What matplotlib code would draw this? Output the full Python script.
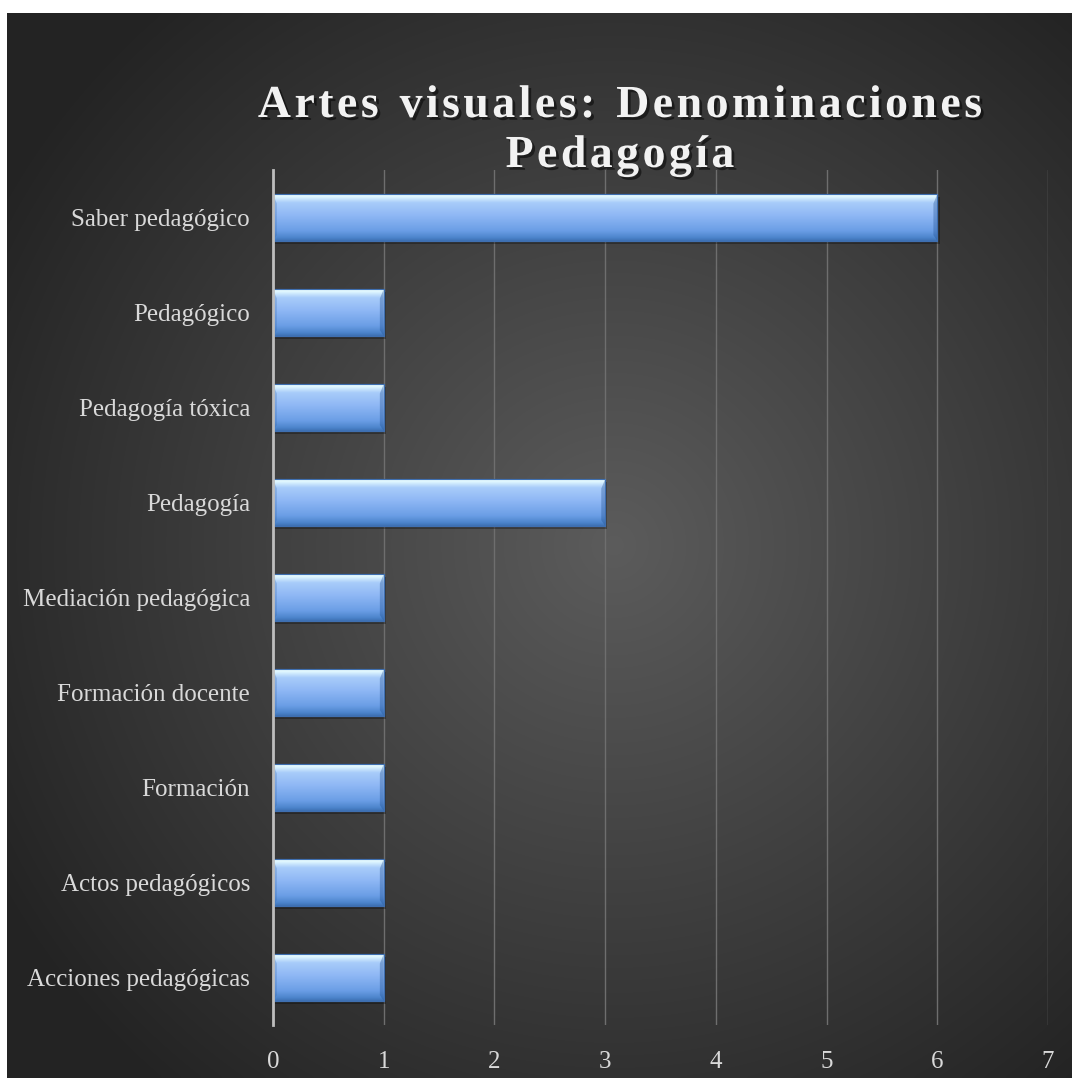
import numpy as np
import matplotlib
matplotlib.use("Agg")
import matplotlib.pyplot as plt
import matplotlib.patheffects as pe

# data (bottom to top as drawn by barh)
categories = ["Acciones pedagógicas", "Actos pedagógicos", "Formación",
              "Formación docente", "Mediación pedagógica", "Pedagogía",
              "Pedagogía tóxica", "Pedagógico", "Saber pedagógico"]
values = [1, 1, 1, 1, 1, 3, 1, 1, 6]
xticks = [0, 1, 2, 3, 4, 5, 6, 7]
title_lines = ["Artes visuales: Denominaciones", "Pedagogía"]

plt.rcParams['font.family'] = ['Liberation Serif', 'DejaVu Serif']

W, H = 1072, 1078
fig = plt.figure(figsize=(W / 100, H / 100), dpi=100, facecolor="white")

# dark panel with radial gradient
bg = fig.add_axes([7 / W, 0, 1 - 7 / W, 1 - 13 / H])
bg.set_axis_off()
gy, gx = np.mgrid[0:1:400j, 0:1:400j]
r = np.sqrt(((gx - 0.57) / 0.75) ** 2 + ((gy - 0.50) / 0.75) ** 2)
shade = np.clip(0.36 - 0.25 * r, 0.14, 0.37)
bg.imshow(np.dstack([shade] * 3), aspect="auto", extent=[0, 1, 0, 1],
          origin="upper", interpolation="bicubic")
bg.set_xlim(0, 1)
bg.set_ylim(0, 1)

ax = fig.add_axes([273 / W, 1 - 1025 / H, (1048 - 273) / W, (1025 - 170) / H])
ax.patch.set_alpha(0)
ax.set_xlim(0, 7)
ax.set_ylim(-0.5, len(categories) - 0.5)

ypos = np.arange(len(categories))
bar_h = 0.49

# shadow
ax.barh(ypos - 0.03, values, height=bar_h, left=0.02, color="black",
        alpha=0.3, zorder=2)
bars = ax.barh(ypos, values, height=bar_h, color="#8cb5f5",
               edgecolor="#3f6fb0", linewidth=0.8, zorder=3)

# vertical glossy gradient inside each bar
stops = np.array([0.0, 0.05, 0.18, 0.45, 0.78, 0.93, 1.0])
cols = np.array([[0.93, 0.99, 1.00],
                 [0.88, 0.97, 1.00],
                 [0.66, 0.80, 0.98],
                 [0.56, 0.72, 0.96],
                 [0.42, 0.62, 0.90],
                 [0.30, 0.52, 0.80],
                 [0.24, 0.44, 0.70]])
t = np.linspace(0, 1, 128)
grad = np.stack([np.interp(t, stops, cols[:, k]) for k in range(3)], axis=1)
grad = grad[:, None, :]
for b in bars:
    x0, y0 = b.get_x(), b.get_y()
    w, h = b.get_width(), b.get_height()
    im = ax.imshow(grad, aspect="auto", extent=[x0, x0 + w, y0, y0 + h],
                   origin="upper", zorder=3.5, interpolation="bilinear")
    im.set_clip_path(b)
    # bevelled ends
    edge = 0.035
    ax.fill([x0, x0 + edge, x0 + edge, x0],
            [y0 + h, y0 + h - h * 0.2, y0 + h * 0.12, y0],
            color="#2f5fa0", alpha=0.25, zorder=3.7, lw=0)
    ax.fill([x0 + w, x0 + w - edge, x0 + w - edge, x0 + w],
            [y0 + h, y0 + h - h * 0.2, y0 + h * 0.12, y0],
            color="#1f4f90", alpha=0.35, zorder=3.7, lw=0)
    ax.add_patch(plt.Rectangle((x0, y0), w, h, fill=False,
                               edgecolor="#3f6fb0", lw=0.8, zorder=3.8))

ax.set_xticks(xticks)
ax.set_yticks(ypos)
ax.set_yticklabels(categories)
ax.grid(axis="x", color="#6e6e6e", linewidth=1.0, zorder=1)
ax.set_axisbelow(True)
for s in ["top", "right", "bottom"]:
    ax.spines[s].set_visible(False)
ax.spines["left"].set_color("#bdbdbd")
ax.spines["left"].set_linewidth(2)
ax.spines["left"].set_zorder(4)
ax.tick_params(axis="both", length=0, colors="#d9d9d9", labelsize=18)
ax.tick_params(axis="y", pad=16.5)
ax.tick_params(axis="x", pad=18.5)

# title with letter spacing, drawn character by character
renderer = fig.canvas.get_renderer()
shadow = [pe.withSimplePatchShadow(offset=(2, -2), alpha=0.5,
                                   shadow_rgbFace="black")]
tracking = 3.4  # px between letters
cx = 620
for line, cy in zip(title_lines, [106, 156]):
    kw = dict(fontsize=33, fontweight="bold", color="#f2f2f2",
              va="center", ha="left", path_effects=shadow)
    widths = []
    for ch in line:
        tt = fig.text(0, 0, ch if ch != " " else "n", **kw)
        wpx = tt.get_window_extent(renderer).width
        tt.remove()
        widths.append(wpx * (0.55 if ch == " " else 1.0))
    total = sum(widths) + tracking * (len(line) - 1)
    x = cx - total / 2
    for ch, wpx in zip(line, widths):
        if ch != " ":
            fig.text(x / W, 1 - cy / H, ch, **kw)
        x += wpx + tracking

fig.savefig("out.png", dpi=100, facecolor="white")
